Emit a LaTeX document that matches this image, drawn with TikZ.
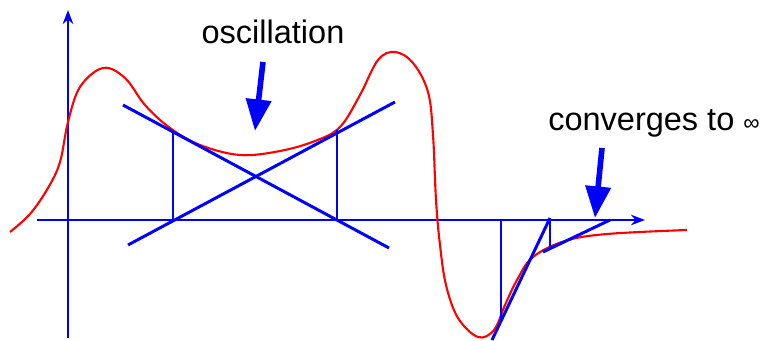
\documentclass[tikz,border=0pt]{standalone}
\usepackage{fontspec}
\setmainfont{Liberation Sans}
\usetikzlibrary{arrows.meta}

\begin{document}
\begin{tikzpicture}[x=0.02cm, y=-0.02cm,
  axis/.style={blue, line width=1.7pt, -{Stealth[length=8pt, width=6pt]}},
  tangent/.style={blue, line width=1.7pt},
  curve/.style={red, line width=1.2pt},
  pointer/.style={blue, line width=3.2pt, -{Triangle[length=18pt, width=14pt]}},
  label/.style={font=\fontsize{18.5}{20}\selectfont, inner sep=0pt}]
\useasboundingbox (0,0) rectangle (769,341);

% axes
\coordinate (xs) at (37,220);
\coordinate (xe) at (645,220);
\coordinate (ys) at (68,338);
\coordinate (ye) at (68,10);
\draw[axis] (xs) -- (xe);
\draw[axis] (ys) -- (ye);

% function
\draw[curve] plot[smooth, tension=0.6] coordinates {
  (10,232) (30,214) (48,188) (60,162) (68,122) (80,87) (103,68) (125,78)
  (145,105) (170,128) (200,145) (240,155) (280,151) (315,141) (340,127)
  (360,95) (378,60) (395,52) (413,63) (428,92) (433,135) (436,200)
  (440,245) (446,285) (458,318) (478,337) (494,330) (505,305) (517,280)
  (533,257) (565,241) (607,234) (687,230)};

% oscillation
\coordinate (a1) at (123,105);
\coordinate (a2) at (389,248);
\coordinate (b1) at (128,245);
\coordinate (b2) at (395,102);
\coordinate (p1) at (173,220);
\coordinate (q1) at (173,132);
\coordinate (p2) at (337,220);
\coordinate (q2) at (337,130);
\draw[tangent] (a1) -- (a2);
\draw[tangent] (b1) -- (b2);
\draw[tangent] (p1) -- (q1);
\draw[tangent] (p2) -- (q2);

% convergence
\coordinate (p3) at (501,220);
\coordinate (q3) at (501,320);
\coordinate (c1) at (492,340);
\coordinate (c2) at (550,218);
\coordinate (q4) at (550,248);
\coordinate (d1) at (543,252);
\coordinate (d2) at (610,220);
\draw[tangent] (p3) -- (q3);
\draw[tangent] (c1) -- (c2);
\draw[tangent] (c2) -- (q4);
\draw[tangent] (d1) -- (d2);

% labels
\node[label] (osc) at (273,32) {oscillation};
\node[label] (conv) at (654,123) {converges to {\fontsize{13}{13}\selectfont ∞}};
\coordinate (t1) at (255,131);
\coordinate (t2) at (595,218);
\draw[pointer] (263,62) -- (t1);
\draw[pointer] (602,148) -- (t2);
\end{tikzpicture}
\end{document}
